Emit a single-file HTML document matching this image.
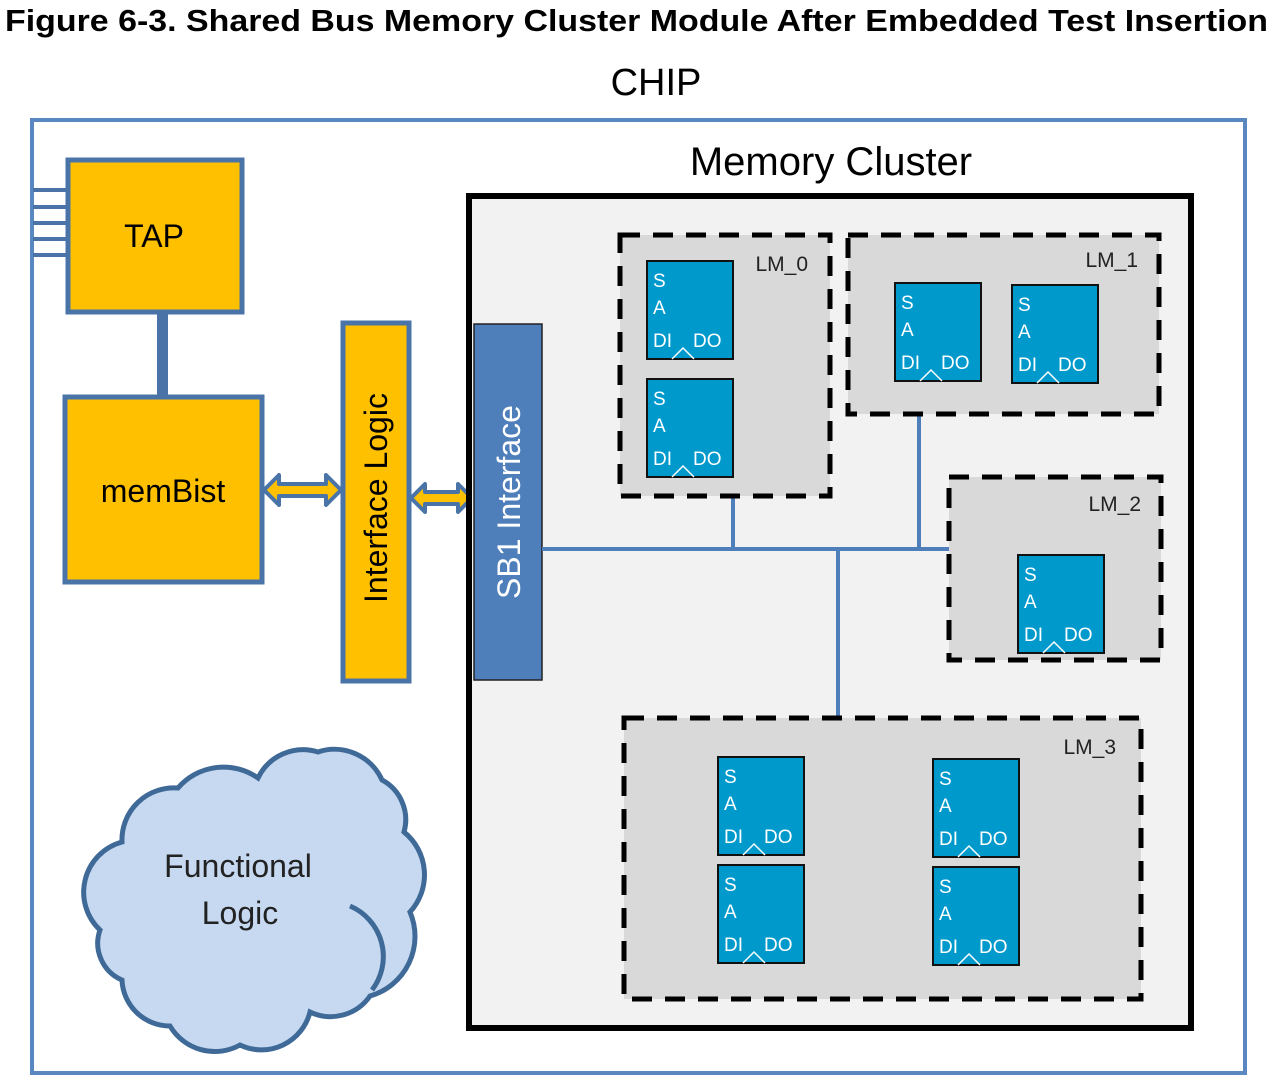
<!DOCTYPE html>
<html><head><meta charset="utf-8"><style>html,body{margin:0;padding:0;background:#fff}svg{display:block}</style></head>
<body>
<svg width="1273" height="1080" viewBox="0 0 1273 1080" xmlns="http://www.w3.org/2000/svg" font-family="Liberation Sans, sans-serif">
<defs>
<g id="mem">
<rect x="0" y="0" width="86" height="98" fill="#0099cc" stroke="#111" stroke-width="2"/>
<g fill="#fff" font-size="19">
<text x="6" y="26">S</text><text x="6" y="53">A</text><text x="6" y="86">DI</text><text x="46" y="86">DO</text>
</g>
<polyline points="25,98 36,87 47,98" fill="none" stroke="#fff" stroke-width="1.5"/>
</g>
</defs>
<text x="5" y="31" font-size="31" font-weight="bold" textLength="1263" lengthAdjust="spacingAndGlyphs">Figure 6-3. Shared Bus Memory Cluster Module After Embedded Test Insertion</text>
<text x="656" y="95" font-size="38" text-anchor="middle">CHIP</text>
<rect x="32" y="120" width="1213" height="953" fill="#fff" stroke="#5b87c0" stroke-width="4"/>
<g stroke="#4a74a8" stroke-width="4">
<line x1="33" y1="190" x2="68" y2="190"/><line x1="33" y1="207" x2="68" y2="207"/><line x1="33" y1="223" x2="68" y2="223"/><line x1="33" y1="239" x2="68" y2="239"/><line x1="33" y1="255" x2="68" y2="255"/>
</g>
<rect x="157" y="310" width="11" height="90" fill="#4a74a8"/>
<rect x="68" y="160" width="174" height="152" fill="#ffc000" stroke="#4a74a8" stroke-width="5"/>
<text x="154" y="247" font-size="32" text-anchor="middle">TAP</text>
<rect x="65" y="397" width="197" height="185" fill="#ffc000" stroke="#4a74a8" stroke-width="5"/>
<text x="163" y="502" font-size="32" text-anchor="middle">memBist</text>
<rect x="343" y="323" width="66" height="358" fill="#ffc000" stroke="#4a74a8" stroke-width="5"/>
<text transform="translate(387,498) rotate(-90)" font-size="32" text-anchor="middle">Interface Logic</text>
<polygon points="264,490 279,475 279,484 326,484 326,475 341,490 326,505 326,496 279,496 279,505" fill="#ffc000" stroke="#4a74a8" stroke-width="4" stroke-linejoin="round"/>
<polygon points="411,498 425,484 425,492 458,492 458,484 472,498 458,512 458,504 425,504 425,512" fill="#ffc000" stroke="#4a74a8" stroke-width="4" stroke-linejoin="round"/>
<rect x="469" y="196" width="722" height="832" fill="#f2f2f2" stroke="#000" stroke-width="6"/>
<text x="831" y="175" font-size="40" text-anchor="middle">Memory Cluster</text>
<rect x="474" y="324" width="68" height="356" fill="#4f7fbb" stroke="#222" stroke-width="1.5"/>
<text transform="translate(520,502) rotate(-90)" font-size="32" fill="#fff" text-anchor="middle">SB1 Interface</text>
<g stroke="#4f7fbb" stroke-width="4">
<line x1="542" y1="549" x2="949" y2="549"/>
<line x1="733" y1="496" x2="733" y2="549"/>
<line x1="919" y1="414" x2="919" y2="549"/>
<line x1="838" y1="549" x2="838" y2="718"/>
</g>
<g fill="#d9d9d9" stroke="#000" stroke-width="5" stroke-dasharray="20,13">
<rect x="620" y="235" width="210" height="261"/>
<rect x="848" y="235" width="311" height="179"/>
<rect x="949" y="477" width="212" height="183"/>
<rect x="624" y="718" width="517" height="281"/>
</g>
<g font-size="21" fill="#222">
<text x="808" y="271" text-anchor="end">LM_0</text>
<text x="1138" y="267" text-anchor="end">LM_1</text>
<text x="1141" y="511" text-anchor="end">LM_2</text>
<text x="1116" y="754" text-anchor="end">LM_3</text>
</g>
<use href="#mem" x="647" y="261"/>
<use href="#mem" x="647" y="379"/>
<use href="#mem" x="895" y="283"/>
<use href="#mem" x="1012" y="285"/>
<use href="#mem" x="1018" y="555"/>
<use href="#mem" x="718" y="757"/>
<use href="#mem" x="718" y="865"/>
<use href="#mem" x="933" y="759"/>
<use href="#mem" x="933" y="867"/>
<path d="M122,842 A52,52 0 0 1 178,788 A60,60 0 0 1 258,778 A50,50 0 0 1 318,752 A52,52 0 0 1 382,780 A45,45 0 0 1 404,832 A55,55 0 0 1 410,912 A62,62 0 0 1 370,996 A48,48 0 0 1 310,1012 A50,50 0 0 1 240,1045 A52,52 0 0 1 170,1026 A48,48 0 0 1 122,980 A40,40 0 0 1 100,930 A52,52 0 0 1 122,842 Z" fill="#c6d9f1" stroke="#3f6a98" stroke-width="5"/>
<path d="M350,906 A55,55 0 0 1 372,990" fill="none" stroke="#3f6a98" stroke-width="5"/>
<text x="238" y="877" font-size="32" text-anchor="middle" fill="#222">Functional</text>
<text x="240" y="924" font-size="32" text-anchor="middle" fill="#222">Logic</text>
</svg>
</body></html>
